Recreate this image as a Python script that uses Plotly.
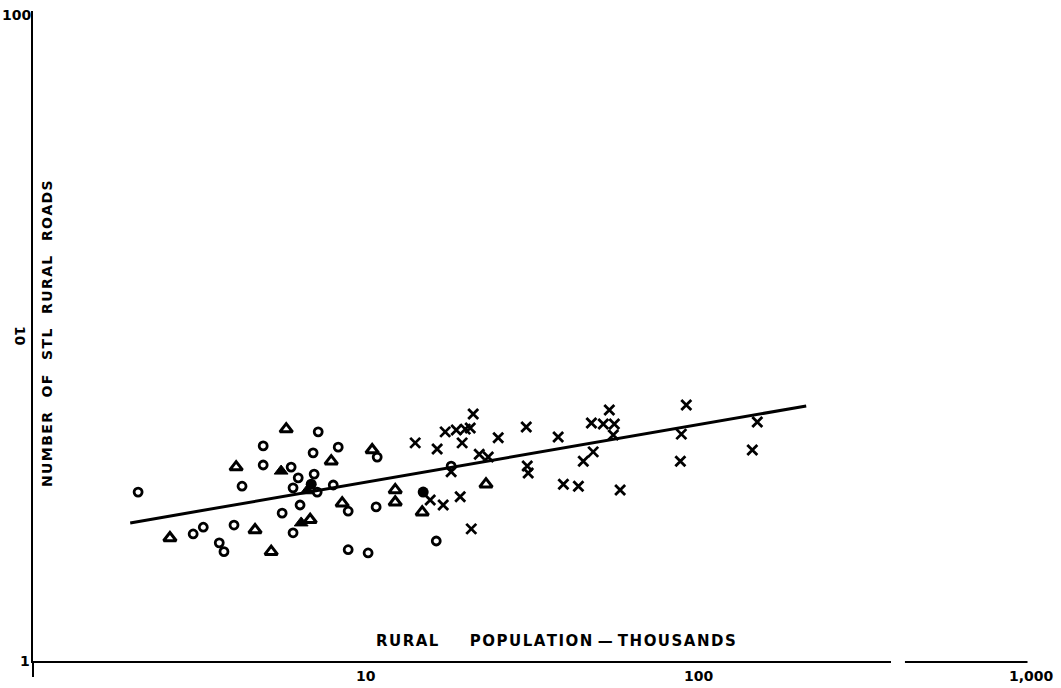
import plotly.graph_objects as go
import math

# ---- data (rural population in thousands, number of STL rural roads) ----
circ_x = [2.07, 3.03, 3.25, 3.63, 3.75, 4.02, 4.25, 4.92, 4.92, 5.61, 6.05, 5.97, 6.27, 6.05,
          6.35, 7.20, 6.95, 8.27, 7.00, 7.15, 7.99, 8.86, 10.75, 10.83, 8.86, 10.17, 16.3, 18.07]
circ_y = [3.31, 2.46, 2.58, 2.31, 2.17, 2.62, 3.45, 4.59, 4.01, 2.85, 2.48, 3.95, 3.66, 3.41,
          3.02, 5.07, 4.37, 4.55, 3.76, 3.31, 3.48, 2.89, 2.98, 4.24, 2.20, 2.15, 2.34, 3.98]

fcirc_x = [6.86, 14.89]
fcirc_y = [3.50, 3.31]

tri_x = [5.77, 4.08, 2.58, 4.65, 5.20, 7.88, 10.46, 6.81, 8.50, 12.27, 12.27, 14.79, 23.0]
tri_y = [5.17, 3.95, 2.39, 2.53, 2.17, 4.12, 4.46, 2.72, 3.06, 3.36, 3.08, 2.87, 3.50]

ftri_x = [5.57, 6.67, 6.40]
ftri_y = [3.84, 3.34, 2.66]

cross_x = [14.09, 16.4, 17.34, 18.72, 19.92, 20.62, 21.05, 19.5, 21.95, 23.36, 25.03, 30.39,
           37.9, 30.6, 30.8, 18.07, 15.63, 17.1, 19.24, 20.77, 39.3, 43.6, 45.1, 48.3, 47.7,
           51.8, 55.9, 54.0, 55.5, 58.2, 92.0, 88.9, 88.3, 150.4, 145.3]
cross_y = [4.69, 4.49, 5.07, 5.14, 5.17, 5.21, 5.75, 4.69, 4.33, 4.24, 4.86, 5.25,
           4.89, 3.98, 3.79, 3.82, 3.13, 3.02, 3.20, 2.55, 3.50, 3.45, 4.12, 4.40, 5.40,
           5.36, 5.36, 5.92, 4.96, 3.36, 6.13, 4.99, 4.12, 5.44, 4.46]

fit_x = [1.96, 211]
fit_y = [2.66, 6.09]

x_ticks = [1, 10, 100, 1000]
x_tick_text = ["1", "10", "100", "1,000"]
y_ticks = [10, 100]
y_tick_text = ["10", "100"]

y_title_words = ["NUMBER", "OF", "STL", "RURAL", "ROADS"]

FONT = "DejaVu Sans"
HAIR = "\u200a"
NB = "\u00a0"


def letters(w):
    return HAIR.join(list(w))


x_title = (letters("RURAL") + NB * 6 + letters("POPULATION") + NB + "—" + NB + letters("THOUSANDS"))
y_title = (NB * 3).join(letters(w) for w in y_title_words)

fig = go.Figure()

fig.add_trace(go.Scatter(x=fit_x, y=fit_y, mode="lines",
                         line=dict(color="black", width=3), showlegend=False, hoverinfo="skip"))
fig.add_trace(go.Scatter(x=circ_x, y=circ_y, mode="markers",
                         marker=dict(symbol="circle-open", size=8, color="black",
                                     line=dict(width=2.8, color="black")), showlegend=False))
fig.add_trace(go.Scatter(x=fcirc_x, y=fcirc_y, mode="markers",
                         marker=dict(symbol="circle", size=11, color="black",
                                     line=dict(width=0)), showlegend=False))
fig.add_trace(go.Scatter(x=tri_x, y=tri_y, mode="markers",
                         marker=dict(symbol="triangle-up-open", size=11, color="black",
                                     line=dict(width=3, color="black")), showlegend=False))
fig.add_trace(go.Scatter(x=ftri_x, y=ftri_y, mode="markers",
                         marker=dict(symbol="triangle-up", size=12, color="black",
                                     line=dict(width=1, color="black")), showlegend=False))
fig.add_trace(go.Scatter(x=cross_x, y=cross_y, mode="markers",
                         marker=dict(symbol="x-thin-open", size=10, color="black",
                                     line=dict(width=2.8, color="black")), showlegend=False))

annotations = []
# x tick labels
for v, t in zip(x_ticks[1:], x_tick_text[1:]):
    annotations.append(dict(x=math.log10(v), xref="x", y=0, yref="paper", text="<b>" + t + "</b>",
                            showarrow=False, xanchor="center", yanchor="middle", yshift=-15,
                            font=dict(family=FONT, size=14, color="black")))
# origin label "1"
annotations.append(dict(x=0, xref="paper", y=0, yref="paper", text="<b>" + x_tick_text[0] + "</b>",
                        showarrow=False, xanchor="center", yanchor="middle", xshift=-8,
                        font=dict(family=FONT, size=14, color="black")))
# y tick labels
annotations.append(dict(x=0, xref="paper", y=math.log10(y_ticks[0]), yref="y",
                        text="<b>" + y_tick_text[0] + "</b>", textangle=90,
                        showarrow=False, xanchor="center", yanchor="middle", xshift=-13,
                        font=dict(family=FONT, size=14, color="black")))
annotations.append(dict(x=0, xref="paper", y=math.log10(y_ticks[1]), yref="y",
                        text="<b>" + y_tick_text[1] + "</b>",
                        showarrow=False, xanchor="center", yanchor="middle", xshift=-17, yshift=-4,
                        font=dict(family=FONT, size=14, color="black")))
# axis titles
annotations.append(dict(x=0.524, xref="paper", y=0, yref="paper", text="<b>" + x_title + "</b>",
                        showarrow=False, xanchor="center", yanchor="middle", yshift=20,
                        font=dict(family=FONT, size=15, color="black")))
annotations.append(dict(x=0, xref="paper", y=0.503, yref="paper", text="<b>" + y_title + "</b>",
                        textangle=-90, showarrow=False, xanchor="center", yanchor="middle",
                        xshift=14, font=dict(family=FONT, size=14, color="black")))

shapes = [
    # break in the x axis
    dict(type="rect", xref="paper", yref="paper", x0=0.8597, x1=0.8737, y0=-0.02, y1=0.02,
         fillcolor="white", line=dict(width=0), layer="above"),
    dict(type="rect", xref="paper", yref="paper", x0=0.9965, x1=1.02, y0=-0.02, y1=0.02,
         fillcolor="white", line=dict(width=0), layer="above"),
]

fig.update_layout(
    width=1061, height=688,
    margin=dict(l=33, r=30, t=11, b=27, pad=0),
    paper_bgcolor="white", plot_bgcolor="white",
    xaxis=dict(type="log", range=[0, 3], showgrid=False, zeroline=False,
               showline=True, linecolor="black", linewidth=2,
               tickvals=[x_ticks[0]], ticks="outside", ticklen=14, tickwidth=1.5,
               tickcolor="black", showticklabels=False),
    yaxis=dict(type="log", range=[0, 2], showgrid=False, zeroline=False,
               showline=True, linecolor="black", linewidth=2,
               ticks="", showticklabels=False),
    annotations=annotations,
    shapes=shapes,
    showlegend=False,
)

fig.write_html("out.html")
